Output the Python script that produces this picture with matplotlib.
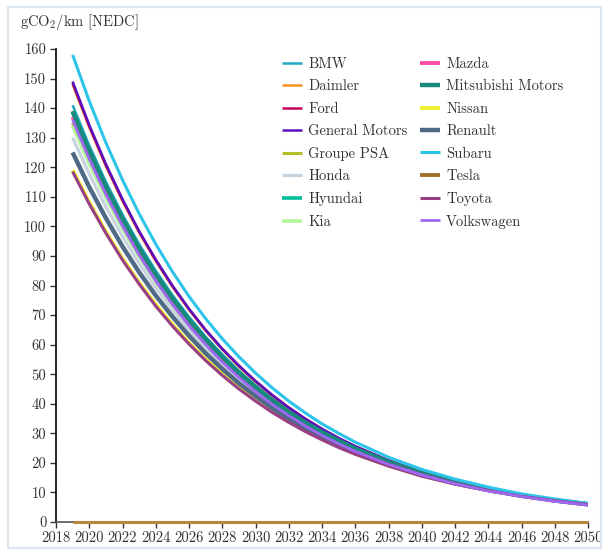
import matplotlib
matplotlib.use("Agg")
import matplotlib.pyplot as plt
from matplotlib.patches import Rectangle

plt.rcParams['font.family'] = ['cmr10', 'DejaVu Serif']
plt.rcParams['mathtext.fontset'] = 'cm'
plt.rcParams['axes.unicode_minus'] = False

# yearly up to 2036, then every tick year
years = list(range(2019, 2037)) + list(range(2038, 2051, 2))

bmw = [141, 127.4, 115.1, 104.0, 94.0, 85.0, 76.8, 69.4, 62.7, 56.7, 51.2, 46.3, 41.8, 37.8, 34.1, 30.9, 27.9,
       25.2, 20.6, 16.8, 13.7, 11.2, 9.2, 7.5, 6.1]
daimler = [148, 133.5, 120.4, 108.5, 97.9, 88.3, 79.6, 71.8, 64.7, 58.4, 52.6, 47.5, 42.8, 38.6, 34.8, 31.4, 28.3,
           25.5, 20.8, 16.9, 13.7, 11.2, 9.1, 7.4, 6.0]
ford = [148.5, 133.9, 120.7, 108.9, 98.2, 88.5, 79.8, 72.0, 64.9, 58.5, 52.8, 47.6, 42.9, 38.7, 34.9, 31.4, 28.3,
        25.6, 20.8, 16.9, 13.7, 11.2, 9.1, 7.4, 6.0]
gm = [149, 134.3, 121.1, 109.2, 98.4, 88.8, 80.0, 72.1, 65.0, 58.6, 52.9, 47.7, 43.0, 38.7, 34.9, 31.5, 28.4,
      25.6, 20.8, 16.9, 13.8, 11.2, 9.1, 7.4, 6.0]
psa = [135, 122.1, 110.4, 99.9, 90.3, 81.7, 73.9, 66.8, 60.4, 54.7, 49.5, 44.7, 40.5, 36.6, 33.1, 29.9, 27.1,
       24.5, 20.0, 16.4, 13.4, 11.0, 9.0, 7.3, 6.0]
honda = [130, 117.7, 106.6, 96.5, 87.4, 79.2, 71.7, 64.9, 58.8, 53.2, 48.2, 43.6, 39.5, 35.8, 32.4, 29.4, 26.6,
         24.1, 19.7, 16.2, 13.3, 10.9, 8.9, 7.3, 6.0]
hyundai = [138.5, 125.2, 113.1, 102.2, 92.4, 83.5, 75.5, 68.2, 61.6, 55.7, 50.3, 45.5, 41.1, 37.2, 33.6, 30.3, 27.4,
           24.8, 20.2, 16.5, 13.5, 11.0, 9.0, 7.3, 6.0]
kia = [134, 121.2, 109.7, 99.2, 89.8, 81.2, 73.5, 66.5, 60.1, 54.4, 49.2, 44.5, 40.3, 36.4, 33.0, 29.8, 27.0,
       24.4, 20.0, 16.4, 13.4, 11.0, 9.0, 7.3, 6.0]
mazda = [137, 123.9, 112.0, 101.2, 91.5, 82.7, 74.8, 67.6, 61.1, 55.2, 49.9, 45.1, 40.8, 36.9, 33.4, 30.2, 27.3,
         24.6, 20.1, 16.5, 13.5, 11.0, 9.0, 7.3, 6.0]
mitsubishi = [139, 125.6, 113.5, 102.6, 92.7, 83.7, 75.7, 68.4, 61.8, 55.8, 50.4, 45.6, 41.2, 37.2, 33.6, 30.4, 27.5,
              24.8, 20.3, 16.5, 13.5, 11.0, 9.0, 7.3, 6.0]
nissan = [119, 108.1, 98.1, 89.1, 80.9, 73.5, 66.8, 60.6, 55.1, 50.0, 45.4, 41.2, 37.5, 34.0, 30.9, 28.1, 25.5,
          23.1, 19.1, 15.7, 13.0, 10.7, 8.8, 7.3, 6.0]
renault = [125, 113.3, 102.8, 93.2, 84.5, 76.6, 69.5, 63.0, 57.1, 51.8, 46.9, 42.6, 38.6, 35.0, 31.7, 28.8, 26.1,
           23.6, 19.4, 16.0, 13.1, 10.8, 8.9, 7.3, 6.0]
subaru = [158, 142.4, 128.3, 115.7, 104.3, 94.0, 84.7, 76.3, 68.8, 62.0, 55.9, 50.4, 45.4, 40.9, 36.9, 33.2, 30.0,
          27.0, 21.9, 17.8, 14.5, 11.8, 9.5, 7.8, 6.3]
tesla = [0] * 25
toyota = [118.5, 107.6, 97.7, 88.6, 80.5, 73.0, 66.3, 60.2, 54.6, 49.6, 45.0, 40.9, 37.1, 33.7, 30.6, 27.8, 25.2,
          22.9, 18.9, 15.5, 12.8, 10.6, 8.7, 7.2, 5.9]
volkswagen = [136, 122.8, 110.8, 100.1, 90.3, 81.5, 73.6, 66.4, 60.0, 54.1, 48.9, 44.1, 39.8, 36.0, 32.5, 29.3, 26.5,
              23.9, 19.5, 15.9, 12.9, 10.5, 8.6, 7.0, 5.7]

makers = ["BMW", "Daimler", "Ford", "General Motors", "Groupe PSA", "Honda", "Hyundai", "Kia",
          "Mazda", "Mitsubishi Motors", "Nissan", "Renault", "Subaru", "Tesla", "Toyota", "Volkswagen"]
series = [bmw, daimler, ford, gm, psa, honda, hyundai, kia,
          mazda, mitsubishi, nissan, renault, subaru, tesla, toyota, volkswagen]
colors = ["#1fa9c2", "#f7931e", "#c2005c", "#5b10bd", "#b6bd2b", "#c8d3e0", "#00bf98", "#b4f59c",
          "#ff4da6", "#178a7b", "#eef229", "#4f6a87", "#2dc4e9", "#a0702c", "#993f88", "#a067f2"]
widths = [1.8, 1.8, 1.8, 1.8, 2.2, 2.3, 2.6, 2.6,
          2.8, 3.2, 2.8, 3.2, 2.2, 2.8, 2.2, 2.0]

fig = plt.figure(figsize=(6.08, 5.55), dpi=100)
ax = fig.add_axes([56 / 608, 33 / 555, 532 / 608, 473 / 555])

for name, vals, c, lw in zip(makers, series, colors, widths):
    line, = ax.plot(years, vals, color=c, lw=lw, label=name, solid_capstyle='butt', zorder=3)
    if name == "Tesla":
        # zero line sits on the axis: draw it a bit thinner and lighter like the original
        line.set_clip_on(False)
        line.set_linewidth(2.2)
        line.set_color('#b8853e')

ax.set_xlim(2018, 2050)
ax.set_ylim(0, 160)
xt = list(range(2018, 2051, 2))
ax.set_xticks(xt, [str(v) for v in xt])
yt = list(range(0, 161, 10))
ax.set_yticks(yt, [str(v) for v in yt])
ax.tick_params(direction='out', length=4, width=1, colors='#333333', labelsize=10.5, pad=3)
for s in ['top', 'right']:
    ax.spines[s].set_visible(False)
ax.spines['left'].set_color('black')
ax.spines['left'].set_linewidth(1.2)
ax.spines['bottom'].set_color('#555555')
ax.spines['bottom'].set_linewidth(1.2)

fig.text(20 / 608, 1 - 26 / 555, r"gCO$_2$/km [NEDC]", fontsize=10.5, color='#333333',
         va='baseline', ha='left')

leg = ax.legend(loc='upper left', bbox_to_anchor=(282 / 608, 1 - 57 / 555), bbox_transform=fig.transFigure,
                ncol=2, frameon=False, fontsize=10.5, handlelength=1.4, handletextpad=0.4,
                columnspacing=0.85, labelspacing=0.6, borderpad=0, borderaxespad=0)
for t, h, c, lw in zip(leg.get_texts(), leg.get_lines(), colors, widths):
    t.set_color('#333333')
    h.set_color(c)
    h.set_linewidth(lw)

fig.patches.append(Rectangle((8 / 608, 7 / 555), 593 / 608, 541 / 555, transform=fig.transFigure,
                             fill=False, edgecolor='#dbe4ef', lw=1.5))

fig.savefig("out.png", dpi=100)
